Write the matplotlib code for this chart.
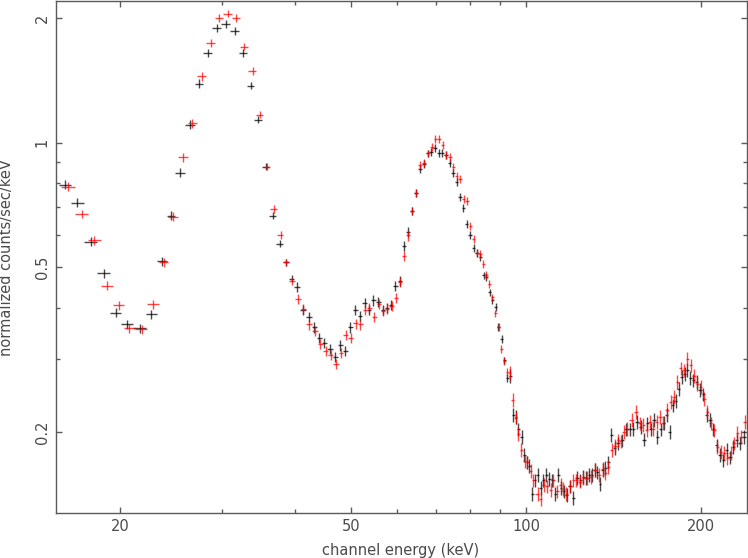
import numpy as np
import matplotlib
matplotlib.use("Agg")
import matplotlib.pyplot as plt
from matplotlib.ticker import FixedLocator, FixedFormatter, NullFormatter

# channel energies (keV) and normalized rates (counts/sec/keV)
black_energy = [
    16.08, 16.87, 17.83, 18.77, 19.68, 20.56, 21.65, 22.62, 23.63, 24.48, 25.37, 26.40, 27.35,
    28.34, 29.37, 30.44, 31.54, 32.56, 33.61, 34.56, 35.67, 36.67, 37.71, 38.61, 39.54,
    40.29, 41.36, 42.25, 43.20, 44.06, 44.95, 45.97, 46.95, 47.83, 48.85, 49.76, 50.82,
    51.77, 52.75, 53.72, 54.58, 55.67, 56.78, 57.69, 58.61, 59.59, 60.59, 61.58, 62.55,
    63.55, 64.57, 65.60, 66.65, 67.71, 68.68, 69.70, 70.73, 71.74, 72.79, 73.87, 74.93,
    75.94, 76.95, 77.96, 79.02, 80.16, 81.24, 82.31, 83.39, 84.47, 85.40, 86.50, 87.53,
    88.64, 89.58, 90.79, 91.73, 92.83,
    93.93, 95.06, 96.08, 96.96, 98.28, 99.30, 100.36, 101.28, 102.37, 103.59, 104.70, 105.96,
    107.05, 108.33, 109.63, 110.81, 112.27, 113.61, 114.83, 116.21, 117.46, 119.00, 120.57,
    122.50, 123.97, 125.45, 126.80, 128.47, 129.85, 131.25, 132.61, 134.03, 135.47, 136.98,
    138.51, 140.00, 141.96, 143.82, 146.06, 148.57, 150.95, 152.94, 155.38, 157.49, 159.56,
    161.66, 163.85, 166.01, 168.19, 170.48, 172.72, 174.57, 176.87, 178.77, 181.13, 183.08,
    185.27, 187.48, 189.43, 191.46, 193.98, 196.61, 199.21, 201.83, 204.57, 207.26, 209.99,
    212.83, 215.64, 218.48, 221.44, 224.36, 227.32, 230.40, 233.44, 237.17,
]
black_rate = [
    0.792, 0.717, 0.577, 0.484, 0.389, 0.364, 0.356, 0.385, 0.517, 0.667, 0.847, 1.105, 1.387,
    1.648, 1.893, 1.935, 1.862, 1.648, 1.372, 1.136, 0.875, 0.667, 0.571, 0.514, 0.470,
    0.448, 0.394, 0.379, 0.358, 0.338, 0.329, 0.317, 0.304, 0.324, 0.314, 0.358, 0.395,
    0.381, 0.410, 0.394, 0.416, 0.412, 0.395, 0.400, 0.405, 0.451, 0.463, 0.562, 0.609,
    0.686, 0.755, 0.864, 0.889, 0.942, 0.952, 0.971, 0.944, 0.944, 0.934, 0.895, 0.847,
    0.802, 0.738, 0.696, 0.637, 0.600, 0.558, 0.541, 0.529, 0.478, 0.474, 0.435, 0.418,
    0.401, 0.359, 0.335, 0.298, 0.270,
    0.274, 0.220, 0.218, 0.203, 0.195, 0.176, 0.169, 0.166, 0.142, 0.153, 0.158, 0.147,
    0.153, 0.158, 0.154, 0.153, 0.142, 0.158, 0.147, 0.144, 0.141, 0.148, 0.139,
    0.155, 0.153, 0.156, 0.155, 0.158, 0.158, 0.162, 0.160, 0.150, 0.162, 0.164,
    0.169, 0.197, 0.183, 0.188, 0.191, 0.203, 0.203, 0.204, 0.212, 0.206, 0.192,
    0.210, 0.203, 0.214, 0.195, 0.203, 0.211, 0.220, 0.200, 0.232, 0.238, 0.254,
    0.272, 0.277, 0.283, 0.271, 0.267, 0.265, 0.253, 0.247, 0.220, 0.214, 0.203,
    0.186, 0.176, 0.171, 0.181, 0.174, 0.184, 0.191, 0.188, 0.195,
]
black_relerr = [0.025] * 13 + [0.02] * 12 + [0.028] * 24 + [0.022] * 29 + [0.038] * 76

red_energy = [
    16.28, 17.18, 18.06, 19.01, 19.94, 20.75, 21.79, 22.82, 23.81, 24.65, 25.67, 26.64, 27.65,
    28.65, 29.61, 30.64, 31.71, 32.73, 33.84, 34.83, 35.77, 36.82, 37.81, 38.54, 39.49,
    40.54, 41.36, 42.35, 43.32, 44.19, 45.19, 46.10, 47.08, 48.02, 48.98, 49.96, 50.90,
    51.84, 52.81, 53.72, 54.80, 55.76, 56.64, 57.55, 58.70, 59.71, 60.66, 61.67, 62.62,
    63.71, 64.72, 65.76, 66.73, 67.80, 68.79, 69.79, 70.73, 71.85, 72.89, 73.96, 74.93,
    75.94, 77.04, 78.08, 79.11, 80.16, 81.24, 82.31, 83.39, 84.36, 85.30, 86.43, 87.46,
    88.51, 89.72, 90.65, 91.73, 92.83,
    93.82, 94.83, 95.90, 96.96, 98.12, 99.57, 100.48, 101.84, 102.89, 104.70, 106.08, 107.35,
    108.50, 110.24, 111.38, 112.89, 114.69, 115.88, 117.13, 119.00, 120.57, 121.87, 123.82,
    125.45, 127.46, 129.34, 131.41, 133.34, 135.37, 136.71, 138.51, 140.39, 142.24, 143.94,
    145.48, 147.40, 149.34, 151.96, 154.58, 157.06, 159.13, 161.28, 163.40, 165.56, 167.79,
    170.00, 172.24, 174.57, 177.36, 179.70, 182.06, 184.54, 186.97, 189.43, 191.99, 194.53,
    197.09, 199.76, 202.39, 205.06, 207.84, 210.57, 213.34, 216.24, 219.09, 221.97, 224.98,
    227.95, 230.95, 234.08, 237.83,
]
red_rate = [
    0.783, 0.673, 0.581, 0.452, 0.405, 0.357, 0.354, 0.407, 0.515, 0.663, 0.922, 1.113, 1.448,
    1.742, 2.001, 2.049, 2.001, 1.706, 1.491, 1.168, 0.875, 0.692, 0.599, 0.514, 0.463,
    0.419, 0.397, 0.364, 0.351, 0.327, 0.314, 0.307, 0.292, 0.310, 0.343, 0.338, 0.366,
    0.364, 0.394, 0.400, 0.379, 0.409, 0.392, 0.397, 0.403, 0.422, 0.461, 0.534, 0.597,
    0.683, 0.758, 0.884, 0.892, 0.942, 0.978, 1.021, 1.021, 0.989, 0.936, 0.925, 0.872,
    0.833, 0.816, 0.732, 0.722, 0.628, 0.586, 0.541, 0.539, 0.509, 0.479, 0.457, 0.423,
    0.387, 0.359, 0.317, 0.297, 0.280,
    0.278, 0.239, 0.217, 0.198, 0.181, 0.170, 0.169, 0.161, 0.153, 0.142, 0.138, 0.149,
    0.148, 0.145, 0.153, 0.144, 0.149, 0.146, 0.142, 0.148, 0.153, 0.153, 0.152,
    0.155, 0.155, 0.156, 0.162, 0.158, 0.163, 0.159, 0.165, 0.181, 0.185, 0.191,
    0.190, 0.200, 0.204, 0.214, 0.224, 0.210, 0.208, 0.202, 0.212, 0.204, 0.212,
    0.218, 0.211, 0.226, 0.237, 0.243, 0.265, 0.285, 0.282, 0.301, 0.290, 0.274,
    0.262, 0.257, 0.241, 0.224, 0.210, 0.202, 0.184, 0.179, 0.178, 0.173, 0.178,
    0.188, 0.199, 0.195, 0.212,
]
red_relerr = [0.025] * 13 + [0.02] * 12 + [0.028] * 24 + [0.022] * 29 + [0.038] * 71

x_major = [20, 50, 100, 200]
x_minor = [30, 40, 60, 70, 80, 90]
y_major = [0.2, 0.5, 1, 2]
y_minor = [0.3, 0.4, 0.6, 0.7, 0.8, 0.9]

assert len(black_energy) == len(black_rate) == len(black_relerr)
assert len(red_energy) == len(red_rate) == len(red_relerr)


def channel_halfwidths(energy):
    # channels are contiguous: edges halfway (in log) between neighbours
    e = np.asarray(energy)
    mid = np.sqrt(e[:-1] * e[1:])
    lo = np.concatenate([[e[0] ** 2 / mid[0]], mid])
    hi = np.concatenate([mid, [e[-1] ** 2 / mid[-1]]])
    return [e - lo, hi - e]


axis_col = "#5a5a5a"
text_col = "#4a4a4a"

fig = plt.figure(figsize=(7.48, 5.58), dpi=100)
ax = fig.add_axes([56 / 748, 1 - 513 / 558, 691 / 748, 512 / 558])

for energy, rate, relerr, col, alpha in [
    (black_energy, black_rate, black_relerr, "black", 0.72),
    (red_energy, red_rate, red_relerr, "red", 0.72),
]:
    rate = np.asarray(rate)
    ax.errorbar(energy, rate, xerr=channel_halfwidths(energy),
                yerr=rate * np.asarray(relerr), fmt="none", ecolor=col,
                elinewidth=1.0, capsize=0, alpha=alpha)

ax.set_xscale("log")
ax.set_yscale("log")
ax.set_xlim(15.52, 240.0)
ax.set_ylim(0.1276, 2.199)

ax.xaxis.set_major_locator(FixedLocator(x_major))
ax.xaxis.set_major_formatter(FixedFormatter([str(v) for v in x_major]))
ax.xaxis.set_minor_locator(FixedLocator(x_minor))
ax.xaxis.set_minor_formatter(NullFormatter())
ax.yaxis.set_major_locator(FixedLocator(y_major))
ax.yaxis.set_major_formatter(FixedFormatter(["0.2", "0.5", "1", "2"]))
ax.yaxis.set_minor_locator(FixedLocator(y_minor))
ax.yaxis.set_minor_formatter(NullFormatter())

ax.tick_params(which="both", direction="in", top=True, right=True,
               color=axis_col, labelcolor=text_col, width=1.0, labelsize=10.5)
ax.tick_params(which="major", length=4.5)
ax.tick_params(which="minor", length=3.0)
ax.tick_params(axis="x", pad=4.5)
ax.tick_params(axis="y", pad=4.5, labelrotation=90)
for lab in ax.get_yticklabels():
    lab.set_va("center")

for sp in ax.spines.values():
    sp.set_color(axis_col)
    sp.set_linewidth(1.0)

ax.set_xlabel("channel energy (keV)", fontsize=10.5, color=text_col)
ax.set_ylabel("normalized counts/sec/keV", fontsize=10.5, color=text_col)
ax.xaxis.set_label_coords(0.499, -0.058)
ax.yaxis.set_label_coords(-0.061, 0.498)

fig.savefig("out.png", dpi=100)
